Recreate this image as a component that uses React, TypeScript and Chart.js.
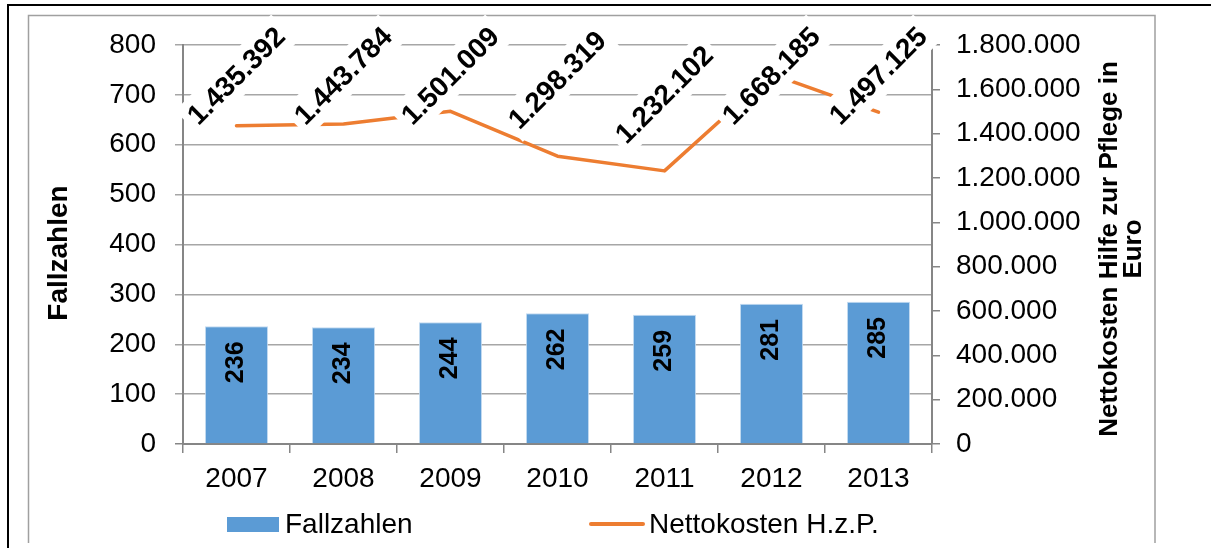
import React, { useEffect, useRef } from "react";
import { Chart, registerables } from "chart.js";

Chart.register(...registerables);

const categories = ["2007", "2008", "2009", "2010", "2011", "2012", "2013"];
const fallzahlen = [236, 234, 244, 262, 259, 281, 285];
const nettokosten = [1435392, 1443784, 1501009, 1298319, 1232102, 1668185, 1497125];
const leftAxisTitle = "Fallzahlen";
const rightAxisTitle = ["Nettokosten Hilfe zur Pflege in", "Euro"];
const legendBar = "Fallzahlen";
const legendLine = "Nettokosten H.z.P.";

const FONT = "'Liberation Sans', Arial, Helvetica, sans-serif";
const BAR_COLOR = "#5B9BD5";
const LINE_COLOR = "#ED7D31";
const GRID = "#A6A6A6";
const AXIS = "#868686";

const fmt = (v: number) => String(Math.round(v)).replace(/\B(?=(\d{3})+(?!\d))/g, ".");

const framePlugin = {
  id: "frame",
  beforeDraw(chart: any) {
    const ctx = chart.ctx;
    ctx.save();
    ctx.fillStyle = "#fff";
    ctx.fillRect(0, 0, chart.width, chart.height);
    ctx.strokeStyle = "#000";
    ctx.lineWidth = 2;
    ctx.strokeRect(8, 5, 1230, 600);
    ctx.strokeStyle = "#A0A0A0";
    ctx.lineWidth = 1.5;
    ctx.beginPath();
    ctx.moveTo(28.5, 543);
    ctx.lineTo(28.5, 15.5);
    ctx.lineTo(1155, 15.5);
    ctx.lineTo(1155, 543);
    ctx.stroke();
    ctx.restore();
  },
};

const labelsPlugin = {
  id: "customLabels",
  afterDatasetsDraw(chart: any) {
    const ctx = chart.ctx;
    const area = chart.chartArea;
    ctx.save();
    // bar labels
    const barMeta = chart.getDatasetMeta(0);
    barMeta.data.forEach((el: any, i: number) => {
      ctx.save();
      ctx.translate(el.x, el.y + 36);
      ctx.rotate(-Math.PI / 2);
      ctx.font = `bold 25px ${FONT}`;
      ctx.fillStyle = "#000";
      ctx.textAlign = "center";
      ctx.textBaseline = "middle";
      ctx.fillText(String(fallzahlen[i]), 0, 0);
      ctx.restore();
    });
    // line labels
    const lineMeta = chart.getDatasetMeta(1);
    lineMeta.data.forEach((el: any, i: number) => {
      const cy = Math.max(el.y - 76, area.top + 31);
      ctx.save();
      ctx.translate(el.x, cy);
      ctx.rotate(-Math.PI / 4);
      ctx.fillStyle = "#fff";
      ctx.fillRect(-68, -19, 136, 38);
      ctx.font = `bold 28px ${FONT}`;
      ctx.fillStyle = "#000";
      ctx.textAlign = "center";
      ctx.textBaseline = "middle";
      ctx.fillText(fmt(nettokosten[i]), 0, 1);
      ctx.restore();
    });
    ctx.restore();
  },
  afterDraw(chart: any) {
    const ctx = chart.ctx;
    ctx.save();
    ctx.fillStyle = "#000";
    ctx.textBaseline = "middle";
    ctx.textAlign = "center";
    // left title
    ctx.save();
    ctx.translate(59, 253);
    ctx.rotate(-Math.PI / 2);
    ctx.font = `bold 28px ${FONT}`;
    ctx.fillText(leftAxisTitle, 0, 0);
    ctx.restore();
    // right title
    ctx.save();
    ctx.translate(1110, 249);
    ctx.rotate(-Math.PI / 2);
    ctx.font = `bold 26px ${FONT}`;
    ctx.fillText(rightAxisTitle[0], 0, 0);
    ctx.fillText(rightAxisTitle[1], 0, 24);
    ctx.restore();
    // legend
    ctx.fillStyle = BAR_COLOR;
    ctx.fillRect(227, 517, 52, 15);
    ctx.fillStyle = "#000";
    ctx.textAlign = "left";
    ctx.font = `28px ${FONT}`;
    ctx.fillText(legendBar, 285, 525);
    ctx.strokeStyle = LINE_COLOR;
    ctx.lineWidth = 4;
    ctx.lineCap = "round";
    ctx.beginPath();
    ctx.moveTo(591, 524);
    ctx.lineTo(643, 524);
    ctx.stroke();
    ctx.fillText(legendLine, 649, 525);
    ctx.restore();
  },
};

export default function App() {
  const ref = useRef<HTMLCanvasElement | null>(null);
  useEffect(() => {
    if (!ref.current) return;
    const chart = new Chart(ref.current, {
      type: "bar",
      data: {
        labels: categories,
        datasets: [
          {
            type: "bar",
            label: legendBar,
            data: fallzahlen,
            backgroundColor: BAR_COLOR,
            borderColor: "rgba(190,215,240,0.9)",
            borderWidth: 1,
            categoryPercentage: 0.59,
            barPercentage: 1,
            yAxisID: "y",
            order: 2,
          },
          {
            type: "line",
            label: legendLine,
            data: nettokosten,
            borderColor: LINE_COLOR,
            borderWidth: 3.5,
            borderCapStyle: "round",
            borderJoinStyle: "round",
            pointRadius: 0,
            tension: 0,
            yAxisID: "y1",
            order: 1,
          } as any,
        ],
      },
      options: {
        responsive: false,
        animation: false,
        layout: { padding: { top: 45, left: 0, right: 0, bottom: 0 } },
        plugins: { legend: { display: false }, tooltip: { enabled: false } },
        scales: {
          x: {
            grid: { drawOnChartArea: false, drawTicks: true, tickLength: 9, color: AXIS, lineWidth: 1.5, offset: true },
            border: { color: AXIS, width: 2 },
            ticks: { font: { size: 28, family: FONT }, color: "#000", padding: 9, maxRotation: 0 },
            afterFit: (s: any) => {
              s.height = 104;
            },
          },
          y: {
            position: "left",
            min: 0,
            max: 800,
            ticks: { stepSize: 100, font: { size: 28, family: FONT }, color: "#000", padding: 19 },
            grid: {
              color: (c: any) => (c.tick && c.tick.value === 0 ? AXIS : GRID),
              lineWidth: 1.5,
              tickLength: 8,
            },
            border: { color: AXIS, width: 2 },
            afterFit: (s: any) => {
              s.width = 183;
            },
          },
          y1: {
            position: "right",
            min: 0,
            max: 1800000,
            ticks: {
              stepSize: 200000,
              font: { size: 28, family: FONT },
              color: "#000",
              padding: 16,
              callback: (v: any) => fmt(Number(v)),
            },
            grid: { drawOnChartArea: false, color: AXIS, lineWidth: 1.5, tickLength: 8 },
            border: { color: AXIS, width: 2 },
            afterFit: (s: any) => {
              s.width = 279;
            },
          },
        },
      },
      plugins: [framePlugin, labelsPlugin],
    });
    return () => chart.destroy();
  }, []);
  return (
    <div style={{ position: "absolute", left: 0, top: 0, width: 1211, height: 548 }}>
      <canvas ref={ref} width={1211} height={548} style={{ display: "block" }} />
    </div>
  );
}
